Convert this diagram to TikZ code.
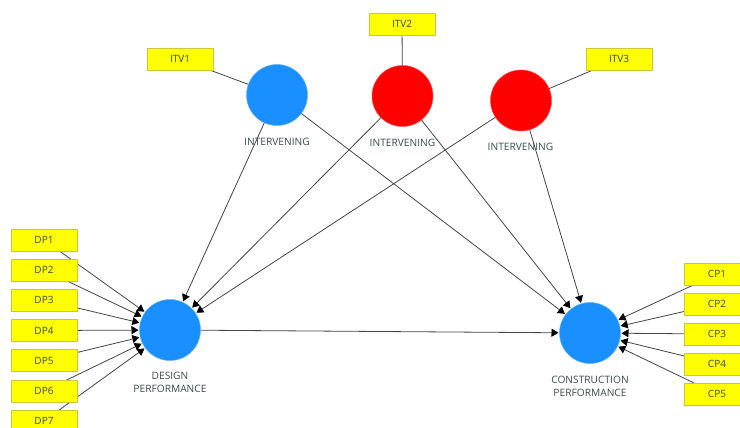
\documentclass[tikz,border=0pt]{standalone}
\usepackage{fontspec}
\setmainfont{Open Sans}
\usetikzlibrary{arrows.meta,backgrounds}
\definecolor{pblue}{HTML}{1A8FFF}
\definecolor{pred}{HTML}{FF0000}
\definecolor{pyel}{HTML}{FFFF00}
\definecolor{pedge}{HTML}{C9C93A}
\definecolor{ptext}{HTML}{3A4A4A}
\definecolor{pline}{HTML}{444444}
\tikzset{
 indicator/.style={rectangle,draw=pedge,line width=0.7pt,fill=pyel,minimum width=66pt,minimum height=22pt,inner sep=0pt,outer sep=0pt,text=ptext,font=\fontsize{10}{11}\selectfont},
 latent/.style={circle,fill=#1,draw=#1!70!white,line width=0.5pt,minimum size=61pt,inner sep=0pt,outer sep=0pt},
 caption/.style={text=ptext,font=\fontsize{10.2}{13.3}\selectfont,align=center,inner sep=0pt},
 plain/.style={draw=pline,line width=0.8pt},
 path/.style={draw=pline,line width=0.8pt,shorten >=1pt,-{Triangle[length=7pt,width=8pt,color=black,fill=black]}}
}
\begin{document}
\begin{tikzpicture}[x=1pt,y=-1pt]
\useasboundingbox (0,0) rectangle (740,428);
\clip (0,0) rectangle (740,428);
\node[latent=pblue] (iv1) at (277,95) {};
\node[latent=pred] (iv2) at (402.5,96) {};
\node[latent=pred] (iv3) at (521,100.5) {};
\node[latent=pblue] (dp) at (170,330) {};
\node[latent=pblue] (cp) at (590,333) {};
\foreach \n/\y in {1/240,2/270,3/300,4/330.5,5/360.5,6/391,7/421}
  \node[indicator] (dp\n) at (44,\y) {DP\n};
\foreach \n/\y in {1/274,2/304,3/334,4/364,5/394}
  \node[indicator] (cp\n) at (717,\y) {CP\n};
\node[indicator] (itv1) at (180,59) {ITV1};
\node[indicator] (itv2) at (402,24) {ITV2};
\node[indicator] (itv3) at (619,59) {ITV3};
\node[caption] (l1) at (277,141.5) {INTERVENING};
\node[caption] (l2) at (402.5,142.5) {INTERVENING};
\node[caption] (l3) at (520.5,147) {INTERVENING};
\node[caption] (l4) at (170,382.5) {DESIGN\\PERFORMANCE};
\node[caption] (l5) at (590,386) {CONSTRUCTION\\PERFORMANCE};
\begin{scope}[on background layer]
\path[plain] (itv1) -- (iv1);
\path[plain] (itv2) -- (iv2);
\path[plain] (itv3) -- (iv3);
\foreach \n in {1,...,7} \path[path] (dp\n) -- (dp);
\foreach \n in {1,...,5} \path[path] (cp\n) -- (cp);
\foreach \n in {1,2,3} {
  \path[path] (iv\n) -- (dp);
  \path[path] (iv\n) -- (cp);
}
\path[path] (dp) -- (cp);
\end{scope}
\end{tikzpicture}
\end{document}
